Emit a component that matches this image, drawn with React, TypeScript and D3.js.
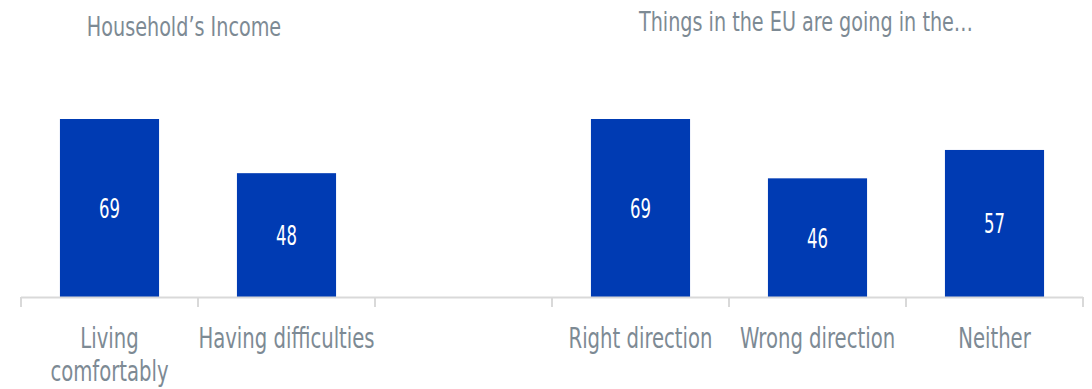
import React from "react";
import * as d3 from "d3";

const categories = ["Living comfortably", "Having difficulties", "", "Right direction", "Wrong direction", "Neither"];
const values: (number | null)[] = [69, 48, null, 69, 46, 57];
const labelLines: string[][] = [["Living", "comfortably"], ["Having difficulties"], [], ["Right direction"], ["Wrong direction"], ["Neither"]];
const groupTitles = ["Household\u2019s Income", "Things in the EU are going in the\u2026"];

const W = 1092, H = 389;
const FONT = "'DejaVu Sans Condensed', 'DejaVu Sans', sans-serif";
const GRAY = "#7d8a94";
const BLUE = "#003bb3";

function CText(props: { x: number; y: number; size: number; sx: number; fill: string; children: React.ReactNode }) {
  return (
    <text transform={`translate(${props.x},${props.y}) scale(${props.sx},1)`} textAnchor="middle" fontFamily={FONT} fontSize={props.size} fill={props.fill}>
      {props.children}
    </text>
  );
}

export default function App() {
  const keys = categories.map((c, i) => i + ":" + c);
  const x = d3.scaleBand<string>().domain(keys).range([21, 1083]).paddingInner(0.44).paddingOuter(0.22);
  const y = d3.scaleLinear().domain([0, 69]).range([297, 119]);
  const step = x.step();
  const left = 21;
  const tickXs = d3.range(categories.length + 1).map((i) => left + i * step);
  return (
    <svg width={W} height={H} style={{ position: "absolute", left: 0, top: 0, background: "#fff" }}>
      <CText x={184} y={36} size={27} sx={0.79} fill={GRAY}>{groupTitles[0]}</CText>
      <CText x={806} y={31} size={27} sx={0.79} fill={GRAY}>{groupTitles[1]}</CText>
      {keys.map((k, i) => {
        const v = values[i];
        if (v == null) return null;
        const bx = x(k)!;
        return (
          <g key={k}>
            <rect x={bx} y={y(v)} width={x.bandwidth()} height={y(0) - y(v)} fill={BLUE} />
            <CText x={bx + x.bandwidth() / 2} y={(y(v) + y(0)) / 2 + 10} size={27} sx={0.68} fill="#fff">{v}</CText>
          </g>
        );
      })}
      <line x1={left} x2={left + step * categories.length} y1={297.5} y2={297.5} stroke="#d9d9d9" strokeWidth={2} />
      {tickXs.map((t, i) => (
        <line key={i} x1={t} x2={t} y1={297} y2={307} stroke="#d9d9d9" strokeWidth={2} />
      ))}
      {keys.map((k, i) =>
        labelLines[i].map((ln, j) => (
          <CText key={k + j} x={x(k)! + x.bandwidth() / 2} y={348 + j * 33} size={28} sx={0.78} fill={GRAY}>{ln}</CText>
        ))
      )}
    </svg>
  );
}
